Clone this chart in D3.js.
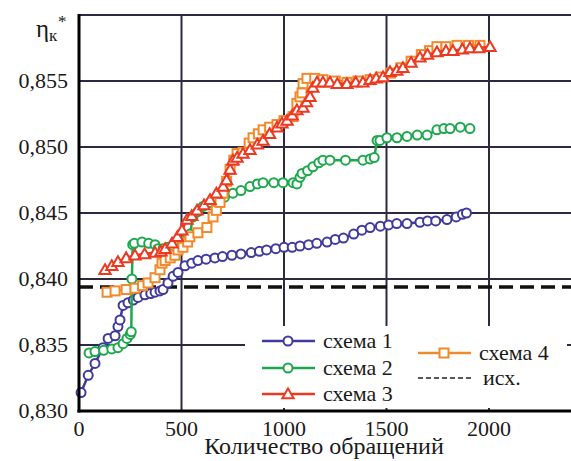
<!DOCTYPE html>
<html>
<head>
<meta charset="utf-8">
<script src="https://cdn.jsdelivr.net/npm/d3@7"></script>
<style>
  body { margin: 0; background: #fff; }
  svg { display: block; }
  text { font-family: "Liberation Serif", serif; fill: #1a1a1a; }
</style>
</head>
<body>
<div class="container"><svg width="571" height="461"></svg></div>
<script>
// axis ticks
var xTicks = [0, 500, 1000, 1500, 2000];
var yTicks = [0.830, 0.835, 0.840, 0.845, 0.850, 0.855];
var baseLevel = 0.83939; // "исх."

// схема 1
var x1 = [10, 45, 78, 117, 142, 176, 190, 200, 215, 239, 265, 288, 322, 350, 371, 395, 410, 434, 459, 483,
    517, 550, 580, 620, 663, 700, 746, 790, 840, 880, 915, 960, 1000, 1040, 1078, 1120, 1160, 1210, 1250,
    1290, 1340, 1380, 1420, 1470, 1510, 1550, 1600, 1663, 1700, 1740, 1795, 1840, 1870, 1890];
var y1 = [0.8314, 0.8327, 0.8336, 0.8348, 0.8355, 0.8357, 0.8364, 0.8369, 0.8380, 0.8382, 0.8384, 0.8386,
    0.8388, 0.8389, 0.8390, 0.8391, 0.8392, 0.8397, 0.8402, 0.8405, 0.8410, 0.8412, 0.8414, 0.8415, 0.8416,
    0.8417, 0.8418, 0.8419, 0.8420, 0.8421, 0.8422, 0.8423, 0.8424, 0.8424, 0.8425, 0.8426, 0.8427, 0.8428,
    0.8430, 0.8431, 0.8434, 0.8437, 0.8439, 0.8440, 0.8441, 0.8442, 0.8442, 0.8443, 0.8444, 0.8444, 0.8445,
    0.8447, 0.8449, 0.8450];

// схема 2
var x2 = [49, 78, 120, 160, 190, 215, 234, 250, 255, 258, 262, 270, 307, 340, 371, 385, 410, 434, 460, 480,
    502, 525, 541, 556, 580, 605, 640, 673, 710, 751, 790, 834, 870, 898, 950, 995, 1044, 1063, 1078, 1088,
    1115, 1141, 1170, 1190, 1224, 1300, 1385, 1420, 1440, 1454, 1468, 1502, 1551, 1600, 1650, 1698, 1746,
    1780, 1810, 1860, 1907];
var y2 = [0.8344, 0.8345, 0.8346, 0.8347, 0.8348, 0.8351, 0.8355, 0.8358, 0.8360, 0.8400, 0.8426, 0.8427,
    0.8428, 0.8427, 0.8426, 0.8423, 0.8423, 0.8424, 0.8425, 0.8426, 0.8428, 0.8430, 0.8434, 0.8447, 0.8451,
    0.8455, 0.8458, 0.8460, 0.8462, 0.8465, 0.8467, 0.8470, 0.8472, 0.8473, 0.8473, 0.8473, 0.8473, 0.8472,
    0.8477, 0.8480, 0.8482, 0.8485, 0.8488, 0.8490, 0.8490, 0.8490, 0.8490, 0.8491, 0.8492, 0.8505, 0.8505,
    0.8507, 0.8507, 0.8508, 0.8509, 0.8509, 0.8513, 0.8514, 0.8514, 0.8515, 0.8514];

// схема 3
var x3 = [127, 160, 190, 230, 273, 320, 371, 400, 420, 454, 480, 502, 527, 550, 576, 610, 639, 670, 703, 720,
    737, 751, 771, 800, 834, 870, 898, 930, 966, 990, 1015, 1040, 1063, 1093, 1110, 1127, 1141, 1161, 1190,
    1224, 1260, 1307, 1350, 1385, 1420, 1450, 1483, 1517, 1550, 1580, 1620, 1663, 1700, 1746, 1790, 1824,
    1870, 1907, 1950, 2005];
var y3 = [0.8407, 0.8410, 0.8413, 0.8416, 0.8418, 0.8419, 0.8420, 0.8421, 0.8423, 0.8427, 0.8432, 0.8437,
    0.8445, 0.8448, 0.8452, 0.8456, 0.8460, 0.8465, 0.8470, 0.8475, 0.8483, 0.8490, 0.8492, 0.8495, 0.8498,
    0.8502, 0.8505, 0.8510, 0.8515, 0.8518, 0.8520, 0.8524, 0.8528, 0.8530, 0.8534, 0.8538, 0.8545, 0.8549,
    0.8549, 0.8549, 0.8548, 0.8548, 0.8549, 0.8549, 0.8551, 0.8552, 0.8553, 0.8557, 0.8558, 0.8560, 0.8564,
    0.8568, 0.8570, 0.8572, 0.8573, 0.8573, 0.8574, 0.8575, 0.8575, 0.8576];

// схема 4
var x4 = [137, 176, 230, 273, 310, 337, 371, 395, 405, 420, 445, 468, 483, 507, 530, 541, 580, 624, 654, 670,
    688, 703, 720, 737, 755, 771, 800, 830, 849, 875, 898, 930, 966, 1000, 1044, 1063, 1078, 1088, 1093,
    1112, 1150, 1190, 1250, 1307, 1360, 1420, 1470, 1520, 1570, 1620, 1670, 1710, 1746, 1790, 1844, 1900, 1956];
var y4 = [0.8390, 0.8391, 0.8392, 0.8393, 0.8395, 0.8397, 0.8401, 0.8407, 0.8412, 0.8414, 0.8416, 0.8418,
    0.8422, 0.8424, 0.8428, 0.8432, 0.8435, 0.8439, 0.8447, 0.8452, 0.8458, 0.8465, 0.8474, 0.8483, 0.8490,
    0.8495, 0.8496, 0.8503, 0.8507, 0.8510, 0.8513, 0.8515, 0.8517, 0.8520, 0.8523, 0.8533, 0.8538, 0.8541,
    0.8548, 0.8552, 0.8552, 0.8551, 0.8550, 0.8549, 0.8550, 0.8551, 0.8553, 0.8556, 0.8560, 0.8565, 0.8570,
    0.8573, 0.8576, 0.8576, 0.8577, 0.8577, 0.8577];

var seriesNames = ["схема 1", "схема 2", "схема 3", "схема 4"];
var seriesColors = ["#3f3a9c", "#1ea84e", "#ec3a22", "#f08a2c"];
var seriesMarkers = ["circle", "circle", "triangle", "square"];

var svg = d3.select("svg");
var plotLeft = 79, plotTop = 15, plotRight = 571, plotBottom = 411;

var x = d3.scaleLinear().domain([0, 2400]).range([plotLeft, plotRight]);
var y = d3.scaleLinear().domain([0.830, 0.860]).range([plotBottom, plotTop]);

var ru = d3.formatLocale({ decimal: ",", thousands: "", grouping: [3], currency: ["", ""] });
var fmtY = ru.format(".3f");

// grid lines
var gridColor = "#2c2a40";
svg.append("g").selectAll("line")
    .data(xTicks.slice(1))
    .enter().append("line")
    .attr("x1", d => x(d)).attr("x2", d => x(d))
    .attr("y1", plotTop).attr("y2", plotBottom)
    .attr("stroke", gridColor).attr("stroke-width", 2);
svg.append("g").selectAll("line")
    .data(yTicks.slice(1))
    .enter().append("line")
    .attr("x1", plotLeft).attr("x2", plotRight)
    .attr("y1", d => y(d)).attr("y2", d => y(d))
    .attr("stroke", gridColor).attr("stroke-width", 2);
// top border
svg.append("line")
    .attr("x1", plotLeft).attr("x2", plotRight)
    .attr("y1", plotTop).attr("y2", plotTop)
    .attr("stroke", gridColor).attr("stroke-width", 2);

// base level dashed line
svg.append("line")
    .attr("x1", plotLeft).attr("x2", plotRight)
    .attr("y1", y(baseLevel)).attr("y2", y(baseLevel))
    .attr("stroke", "#111").attr("stroke-width", 3.5)
    .attr("stroke-dasharray", "14,7");

// markers
function drawMarker(g, type, cx, cy, color) {
    if (type == "circle") {
        g.append("circle").attr("cx", cx).attr("cy", cy).attr("r", 4.5)
            .attr("fill", "#fff").attr("stroke", color).attr("stroke-width", 2);
    } else if (type == "square") {
        g.append("rect").attr("x", cx - 4.5).attr("y", cy - 4.5)
            .attr("width", 9).attr("height", 9)
            .attr("fill", "#fff").attr("stroke", color).attr("stroke-width", 2);
    } else {
        g.append("path")
            .attr("d", d3.symbol().type(d3.symbolTriangle).size(55)())
            .attr("transform", "translate(" + cx + "," + (cy + 1) + ")")
            .attr("fill", "#fff").attr("stroke", color).attr("stroke-width", 2);
    }
}

var line = d3.line().x(d => x(d[0])).y(d => y(d[1]));
var allX = [x1, x2, x3, x4];
var allY = [y1, y2, y3, y4];
var drawOrder = [0, 1, 3, 2];

drawOrder.forEach(function (i) {
    var pts = allX[i].map((v, k) => [v, allY[i][k]]);
    var g = svg.append("g").attr("class", "series");
    g.append("path")
        .datum(pts)
        .attr("d", line)
        .attr("fill", "none")
        .attr("stroke", seriesColors[i])
        .attr("stroke-width", 2.5);
    pts.forEach(function (p) {
        drawMarker(g, seriesMarkers[i], x(p[0]), y(p[1]), seriesColors[i]);
    });
});

// axes lines
svg.append("line").attr("x1", plotLeft).attr("x2", plotLeft).attr("y1", plotTop - 1).attr("y2", plotBottom + 1.5)
    .attr("stroke", "#000").attr("stroke-width", 3);
svg.append("line").attr("x1", plotLeft - 1.5).attr("x2", plotRight).attr("y1", plotBottom).attr("y2", plotBottom)
    .attr("stroke", "#000").attr("stroke-width", 3);

// tick labels
svg.append("g").selectAll("text")
    .data(yTicks)
    .enter().append("text")
    .attr("x", 68).attr("y", d => y(d) + 7)
    .attr("text-anchor", "end")
    .attr("font-size", 22)
    .text(d => fmtY(d));
svg.append("g").selectAll("text")
    .data(xTicks)
    .enter().append("text")
    .attr("x", d => x(d)).attr("y", 436)
    .attr("text-anchor", "middle")
    .attr("font-size", 22)
    .text(d => d);

// axis titles
var yl = svg.append("text").attr("x", 36).attr("y", 37).attr("font-size", 25);
yl.append("tspan").text("η");
yl.append("tspan").attr("font-size", 17).attr("dy", 4).text("к");
svg.append("text").attr("x", 58).attr("y", 27).attr("font-size", 17).text("*");

svg.append("text")
    .attr("x", 324).attr("y", 454)
    .attr("text-anchor", "middle")
    .attr("font-size", 24)
    .text("Количество обращений");

// legend
svg.append("rect").attr("x", 245).attr("y", 326).attr("width", 322).attr("height", 82)
    .attr("fill", "#fff");

var legendItems = [
    { i: 0, lx: 262, cy: 341 },
    { i: 1, lx: 262, cy: 368 },
    { i: 2, lx: 262, cy: 394 },
    { i: 3, lx: 418, cy: 353 }
];
legendItems.forEach(function (it) {
    var g = svg.append("g");
    g.append("line").attr("x1", it.lx).attr("x2", it.lx + 53)
        .attr("y1", it.cy).attr("y2", it.cy)
        .attr("stroke", seriesColors[it.i]).attr("stroke-width", 2.5);
    drawMarker(g, seriesMarkers[it.i], it.lx + 26, it.cy, seriesColors[it.i]);
    g.append("text").attr("x", it.lx + 61).attr("y", it.cy + 7)
        .attr("font-size", 22).text(seriesNames[it.i]);
});
svg.append("line").attr("x1", 418).attr("x2", 471)
    .attr("y1", 378).attr("y2", 378)
    .attr("stroke", "#222").attr("stroke-width", 1.5)
    .attr("stroke-dasharray", "5,3");
svg.append("text").attr("x", 483).attr("y", 385)
    .attr("font-size", 22).text("исх.");
</script>
</body>
</html>
